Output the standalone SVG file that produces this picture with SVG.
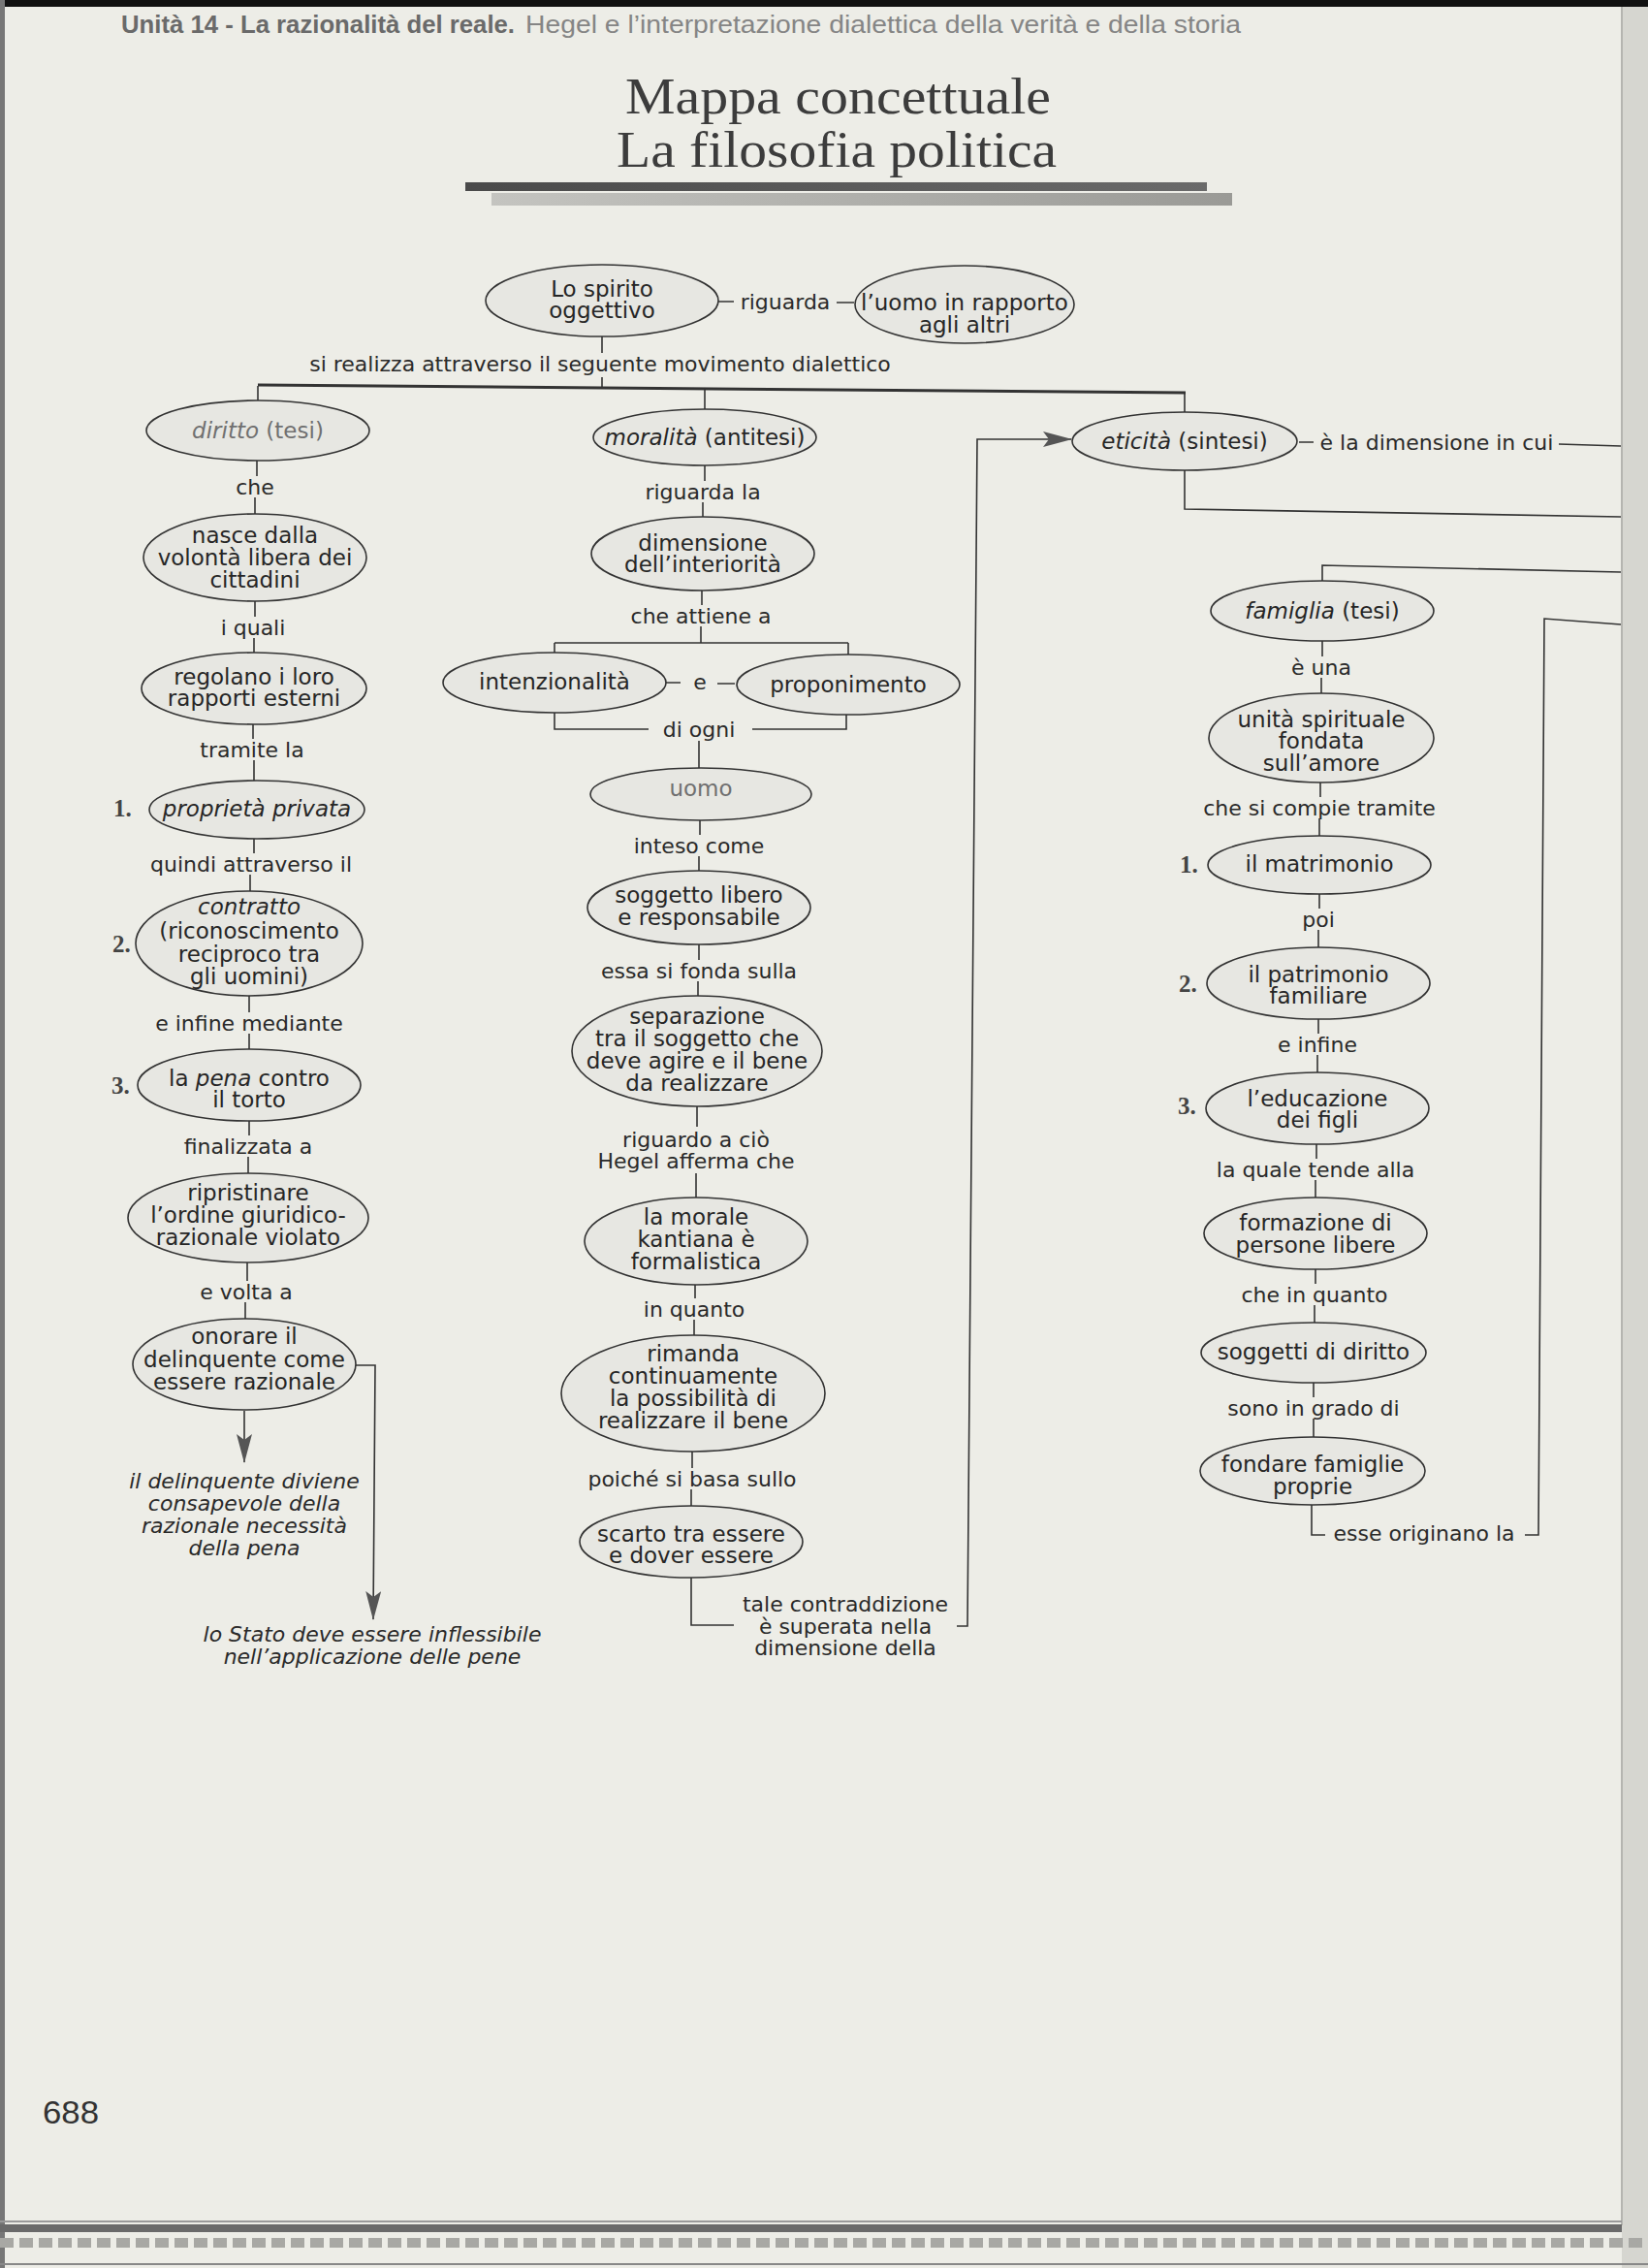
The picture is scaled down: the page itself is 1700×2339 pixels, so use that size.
<svg xmlns="http://www.w3.org/2000/svg" width="1700" height="2339" viewBox="0 0 1700 2339">
<style>
.n{fill:#e7e7e2;stroke:#333;stroke-width:1.6}
.t{font-family:"DejaVu Sans",Verdana,sans-serif;font-size:23px;fill:#262626;text-anchor:middle}
.l{font-family:"DejaVu Sans",Verdana,sans-serif;font-size:22px;fill:#2a2a2a;text-anchor:middle}
.it{font-style:italic}
.fade{fill:#707070}
.num{font-family:"Liberation Serif","Times New Roman",serif;font-size:25px;font-weight:bold;fill:#444}
.c path{fill:none;stroke:#333;stroke-width:1.6}
.c path.bus{stroke-width:3}
</style>
<defs>
<marker id="ah" markerUnits="userSpaceOnUse" markerWidth="30" markerHeight="16" refX="29" refY="8" orient="auto">
<path d="M0 0L30 8L0 16L6 8Z" fill="#555"/>
</marker>
<linearGradient id="g1" x1="0" x2="1" y1="0" y2="0"><stop offset="0" stop-color="#4a4a4a"/><stop offset="1" stop-color="#6a6a6a"/></linearGradient>
<linearGradient id="g2" x1="0" x2="1" y1="0" y2="0"><stop offset="0" stop-color="#c4c4c0"/><stop offset="1" stop-color="#9a9a96"/></linearGradient>
</defs>
<rect x="0" y="0" width="1700" height="2339" fill="#edede7"/>
<rect x="0" y="0" width="1700" height="7" fill="#111"/>
<rect x="0" y="0" width="5" height="2339" fill="#777"/>
<rect x="1673" y="7" width="27" height="2332" fill="#d6d6d0"/>
<path d="M1673 7V2295" stroke="#b5b5b0" stroke-width="2"/>
<path d="M0 2291H1673" stroke="#999" stroke-width="2"/>
<rect x="0" y="2294" width="1673" height="8" fill="#6a6a6a"/>
<path d="M0 2313H1700" stroke="#a8a8a4" stroke-width="10" stroke-dasharray="14 6"/>
<path d="M0 2335H1700" stroke="#888" stroke-width="2"/>

<g id="header">
<text x="125" y="34" font-family="'Liberation Sans',Arial,sans-serif" font-size="25" font-weight="bold" fill="#6a6a6a" textLength="406" lengthAdjust="spacingAndGlyphs">Unità 14 - La razionalità del reale.</text>
<text x="542" y="34" font-family="'Liberation Sans',Arial,sans-serif" font-size="25" fill="#858585" textLength="738" lengthAdjust="spacingAndGlyphs">Hegel e l’interpretazione dialettica della verità e della storia</text>
</g>
<g id="title">
<text x="645" y="117" font-family="'Liberation Serif','Times New Roman',serif" font-size="53" fill="#3c3c3c" textLength="439" lengthAdjust="spacingAndGlyphs">Mappa concettuale</text>
<text x="636" y="172" font-family="'Liberation Serif','Times New Roman',serif" font-size="53" fill="#3c3c3c" textLength="454" lengthAdjust="spacingAndGlyphs">La filosofia politica</text>
<rect x="480" y="188" width="765" height="9" fill="url(#g1)"/>
<rect x="507" y="199" width="764" height="13" fill="url(#g2)"/>
</g>

<g class="c" id="connectors">
<path d="M621 347V364M621 389V399"/>
<path class="bus" d="M266 397L1223 405"/>
<path d="M266 398V413M727 401V422M1222 405V425"/>
<path d="M741 311H757M863 312H881"/>
<path d="M265 475V491M263 513V530M263 620V636M262 658V673M261 747V762M262 784V805M262 865V880M258 902V919M257 1027V1044M257 1066V1082M257 1156V1171M256 1193V1210M255 1302V1321M253 1343V1360"/>
<path d="M252 1455V1508" marker-end="url(#ah)"/>
<path d="M367 1408H387L385 1670" marker-end="url(#ah)"/>
<path d="M727 480V496M725 518V533M724 609V624M723 646V663M572 663H875M572 663V673M875 663V675M687 704H702M740 705H758M572 735V752H669M776 752H873V737M721 764V792M722 846V861M721 883V898M721 974V990M720 1012V1028M719 1140V1162M718 1210V1235M717 1325V1339M716 1361V1377M714 1497V1514M713 1536V1553M713 1627V1676H757"/>
<path d="M987 1677H998L1008 453H1105" marker-end="url(#ah)"/>
<path d="M1340 456H1355M1608 458L1672 460M1222 485V525L1672 533M1672 590L1364 583V599M1672 644L1593 638L1587 1583H1573"/>
<path d="M1364 661V677M1363 699V715M1362 807V822M1361 844V862M1361 922V937M1360 959V977M1360 1051V1066M1359 1088V1106M1358 1180V1195M1357 1217V1235M1357 1309V1324M1356 1346V1364M1355 1426V1441M1355 1463V1482M1353 1552V1583H1367"/>
</g>

<g id="labels">
<text class="l" x="810" y="319">riguarda</text>
<text class="l" x="619" y="383">si realizza attraverso il seguente movimento dialettico</text>
<text class="l" x="263" y="510">che</text>
<text class="l" x="261" y="655">i quali</text>
<text class="l" x="260" y="781">tramite la</text>
<text class="l" x="259" y="899">quindi attraverso il</text>
<text class="l" x="257" y="1063">e infine mediante</text>
<text class="l" x="256" y="1190">finalizzata a</text>
<text class="l" x="254" y="1340">e volta a</text>
<text class="l it" x="252" y="1535">il delinquente diviene</text>
<text class="l it" x="252" y="1558">consapevole della</text>
<text class="l it" x="252" y="1581">razionale necessità</text>
<text class="l it" x="252" y="1604">della pena</text>
<text class="l it" x="384" y="1693">lo Stato deve essere inflessibile</text>
<text class="l it" x="384" y="1716">nell’applicazione delle pene</text>
<text class="l" x="725" y="515">riguarda la</text>
<text class="l" x="723" y="643">che attiene a</text>
<text class="l" x="722" y="711">e</text>
<text class="l" x="721" y="760">di ogni</text>
<text class="l" x="721" y="880">inteso come</text>
<text class="l" x="721" y="1009">essa si fonda sulla</text>
<text class="l" x="718" y="1183">riguardo a ciò</text>
<text class="l" x="718" y="1205">Hegel afferma che</text>
<text class="l" x="716" y="1358">in quanto</text>
<text class="l" x="714" y="1533">poiché si basa sullo</text>
<text class="l" x="872" y="1662">tale contraddizione</text>
<text class="l" x="872" y="1685">è superata nella</text>
<text class="l" x="872" y="1707">dimensione della</text>
<text class="l" x="1482" y="464">è la dimensione in cui</text>
<text class="l" x="1363" y="696">è una</text>
<text class="l" x="1361" y="841">che si compie tramite</text>
<text class="l" x="1360" y="956">poi</text>
<text class="l" x="1359" y="1085">e infine</text>
<text class="l" x="1357" y="1214">la quale tende alla</text>
<text class="l" x="1356" y="1343">che in quanto</text>
<text class="l" x="1355" y="1460">sono in grado di</text>
<text class="l" x="1469" y="1589">esse originano la</text>
<text class="num" x="117" y="842">1.</text>
<text class="num" x="116" y="982">2.</text>
<text class="num" x="115" y="1128">3.</text>
<text class="num" x="1217" y="900">1.</text>
<text class="num" x="1216" y="1023">2.</text>
<text class="num" x="1215" y="1149">3.</text>
</g>

<g id="n-spirito"><ellipse class="n" cx="621" cy="310" rx="120" ry="37"/><text class="t" x="621" y="306">Lo spirito</text><text class="t" x="621" y="328">oggettivo</text></g>
<g id="n-uomo-altri"><ellipse class="n" cx="995" cy="314" rx="113" ry="40"/><text class="t" x="995" y="320">l’uomo in rapporto</text><text class="t" x="995" y="343">agli altri</text></g>

<g id="n-diritto"><ellipse class="n" cx="266" cy="444" rx="115" ry="31"/><text class="t fade" x="266" y="452"><tspan class="it">diritto</tspan> (tesi)</text></g>
<g id="n-nasce"><ellipse class="n" cx="263" cy="575" rx="115" ry="45"/><text class="t" x="263" y="560">nasce dalla</text><text class="t" x="263" y="583">volontà libera dei</text><text class="t" x="263" y="606">cittadini</text></g>
<g id="n-regolano"><ellipse class="n" cx="262" cy="710" rx="116" ry="37"/><text class="t" x="262" y="706">regolano i loro</text><text class="t" x="262" y="728">rapporti esterni</text></g>
<g id="n-proprieta"><ellipse class="n" cx="265" cy="835" rx="111" ry="30"/><text class="t it" x="265" y="842">proprietà privata</text></g>
<g id="n-contratto"><ellipse class="n" cx="257" cy="973" rx="117" ry="54"/><text class="t it" x="257" y="943">contratto</text><text class="t" x="257" y="968">(riconoscimento</text><text class="t" x="257" y="992">reciproco tra</text><text class="t" x="257" y="1015">gli uomini)</text></g>
<g id="n-pena"><ellipse class="n" cx="257" cy="1119" rx="115" ry="37"/><text class="t" x="257" y="1120">la <tspan class="it">pena</tspan> contro</text><text class="t" x="257" y="1142">il torto</text></g>
<g id="n-ripristinare"><ellipse class="n" cx="256" cy="1256" rx="124" ry="46"/><text class="t" x="256" y="1238">ripristinare</text><text class="t" x="256" y="1261">l’ordine giuridico-</text><text class="t" x="256" y="1284">razionale violato</text></g>
<g id="n-onorare"><ellipse class="n" cx="252" cy="1407" rx="115" ry="47"/><text class="t" x="252" y="1386">onorare il</text><text class="t" x="252" y="1410">delinquente come</text><text class="t" x="252" y="1433">essere razionale</text></g>

<g id="n-moralita"><ellipse class="n" cx="727" cy="451" rx="115" ry="29"/><text class="t" x="727" y="459"><tspan class="it">moralità</tspan> (antitesi)</text></g>
<g id="n-dimensione"><ellipse class="n" cx="725" cy="571" rx="115" ry="38"/><text class="t" x="725" y="568">dimensione</text><text class="t" x="725" y="590">dell’interiorità</text></g>
<g id="n-intenzionalita"><ellipse class="n" cx="572" cy="704" rx="115" ry="31"/><text class="t" x="572" y="711">intenzionalità</text></g>
<g id="n-proponimento"><ellipse class="n" cx="875" cy="706" rx="115" ry="31"/><text class="t" x="875" y="714">proponimento</text></g>
<g id="n-uomo"><ellipse class="n" cx="723" cy="819" rx="114" ry="27"/><text class="t fade" x="723" y="821">uomo</text></g>
<g id="n-soggetto"><ellipse class="n" cx="721" cy="936" rx="115" ry="38"/><text class="t" x="721" y="931">soggetto libero</text><text class="t" x="721" y="954">e responsabile</text></g>
<g id="n-separazione"><ellipse class="n" cx="719" cy="1084" rx="129" ry="57"/><text class="t" x="719" y="1056">separazione</text><text class="t" x="719" y="1079">tra il soggetto che</text><text class="t" x="719" y="1102">deve agire e il bene</text><text class="t" x="719" y="1125">da realizzare</text></g>
<g id="n-morale"><ellipse class="n" cx="718" cy="1280" rx="115" ry="45"/><text class="t" x="718" y="1263">la morale</text><text class="t" x="718" y="1286">kantiana è</text><text class="t" x="718" y="1309">formalistica</text></g>
<g id="n-rimanda"><ellipse class="n" cx="715" cy="1437" rx="136" ry="60"/><text class="t" x="715" y="1404">rimanda</text><text class="t" x="715" y="1427">continuamente</text><text class="t" x="715" y="1450">la possibilità di</text><text class="t" x="715" y="1473">realizzare il bene</text></g>
<g id="n-scarto"><ellipse class="n" cx="713" cy="1590" rx="115" ry="37"/><text class="t" x="713" y="1590">scarto tra essere</text><text class="t" x="713" y="1612">e dover essere</text></g>

<g id="n-eticita"><ellipse class="n" cx="1222" cy="455" rx="116" ry="30"/><text class="t" x="1222" y="463"><tspan class="it">eticità</tspan> (sintesi)</text></g>
<g id="n-famiglia"><ellipse class="n" cx="1364" cy="630" rx="115" ry="31"/><text class="t" x="1364" y="638"><tspan class="it">famiglia</tspan> (tesi)</text></g>
<g id="n-unita"><ellipse class="n" cx="1363" cy="761" rx="116" ry="46"/><text class="t" x="1363" y="750">unità spirituale</text><text class="t" x="1363" y="772">fondata</text><text class="t" x="1363" y="795">sull’amore</text></g>
<g id="n-matrimonio"><ellipse class="n" cx="1361" cy="892" rx="115" ry="30"/><text class="t" x="1361" y="899">il matrimonio</text></g>
<g id="n-patrimonio"><ellipse class="n" cx="1360" cy="1014" rx="115" ry="37"/><text class="t" x="1360" y="1013">il patrimonio</text><text class="t" x="1360" y="1035">familiare</text></g>
<g id="n-educazione"><ellipse class="n" cx="1359" cy="1143" rx="115" ry="37"/><text class="t" x="1359" y="1141">l’educazione</text><text class="t" x="1359" y="1163">dei figli</text></g>
<g id="n-formazione"><ellipse class="n" cx="1357" cy="1272" rx="115" ry="37"/><text class="t" x="1357" y="1269">formazione di</text><text class="t" x="1357" y="1292">persone libere</text></g>
<g id="n-soggetti"><ellipse class="n" cx="1355" cy="1395" rx="116" ry="31"/><text class="t" x="1355" y="1402">soggetti di diritto</text></g>
<g id="n-fondare"><ellipse class="n" cx="1354" cy="1517" rx="116" ry="35"/><text class="t" x="1354" y="1518">fondare famiglie</text><text class="t" x="1354" y="1541">proprie</text></g>

<text x="44" y="2190" font-family="'Liberation Sans',Arial,sans-serif" font-size="34" fill="#333" textLength="58" lengthAdjust="spacingAndGlyphs">688</text>
</svg>
